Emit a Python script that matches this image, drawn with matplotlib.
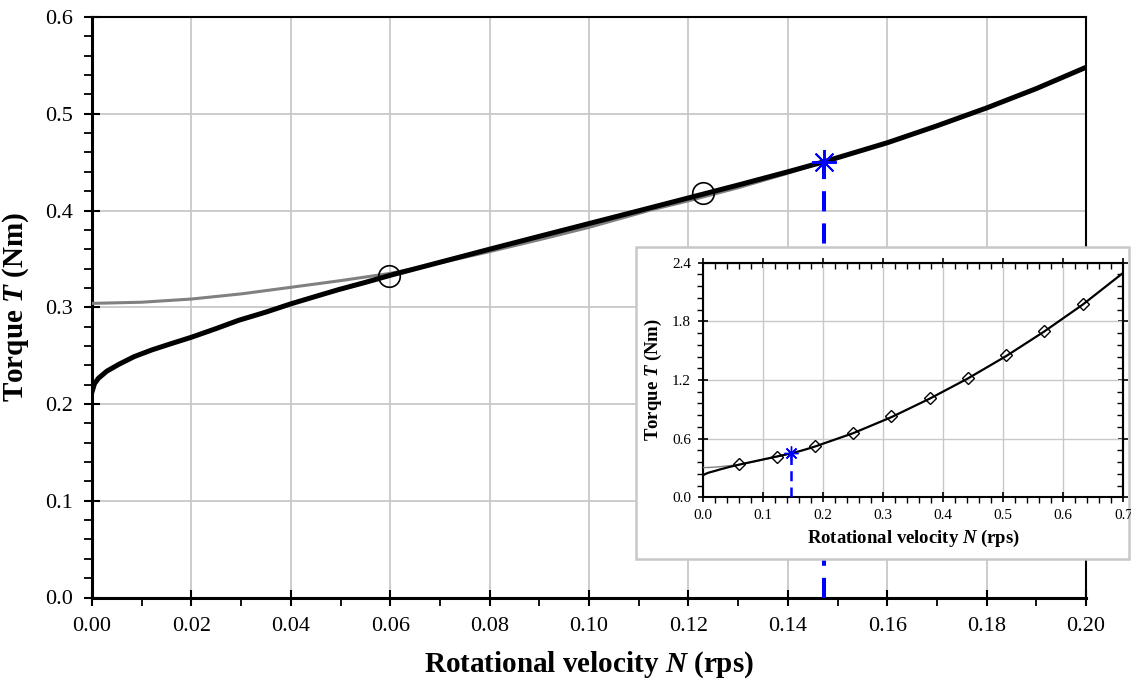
import matplotlib
matplotlib.use("Agg")
import matplotlib.pyplot as plt
from matplotlib.patches import Rectangle
from matplotlib.ticker import MultipleLocator, FormatStrFormatter, NullFormatter

plt.rcParams['font.family'] = ['Liberation Serif', 'DejaVu Serif']
plt.rcParams['mathtext.fontset'] = 'custom'
plt.rcParams['mathtext.rm'] = 'Liberation Serif:bold'
plt.rcParams['mathtext.it'] = 'Liberation Serif:bold:italic'

# black curve
n_black = [0.0, 0.0005, 0.0013, 0.003, 0.0054, 0.0085, 0.0121, 0.016, 0.02, 0.025,
           0.0295, 0.035, 0.04, 0.045, 0.0496, 0.055, 0.06, 0.07, 0.08, 0.09, 0.10,
           0.11, 0.12, 0.13, 0.14, 0.1473, 0.16, 0.17, 0.18, 0.19, 0.20]
t_black = [0.2125, 0.221, 0.2266, 0.234, 0.241, 0.249, 0.256, 0.2625, 0.269, 0.278,
           0.2865, 0.295, 0.3035, 0.3112, 0.3182, 0.3257, 0.333, 0.3465, 0.360, 0.3733, 0.3865,
           0.3997, 0.413, 0.4263, 0.440, 0.4504, 0.470, 0.4875, 0.506, 0.526, 0.548]

# grey curve
n_grey = [0.0, 0.01, 0.02, 0.03, 0.04, 0.05, 0.06, 0.07, 0.08, 0.09, 0.10, 0.1124,
          0.12, 0.13, 0.14, 0.1473]
t_grey = [0.304, 0.3052, 0.3085, 0.3138, 0.3206, 0.3275, 0.335, 0.3458, 0.3575, 0.3698,
          0.3826, 0.4005, 0.410, 0.4235, 0.4385, 0.4504]

# circles and operating point
n_circ = [0.0597, 0.1229]
t_circ = [0.3323, 0.4184]
n_op = 0.1473
t_op = 0.4504

# inset: continuation of black curve and diamonds
n_ext = [0.25, 0.314, 0.378, 0.441, 0.505, 0.568, 0.632, 0.70]
t_ext = [0.655, 0.82, 1.01, 1.215, 1.445, 1.695, 1.97, 2.298]
n_diam = [0.06, 0.123, 0.187, 0.25, 0.314, 0.378, 0.441, 0.505, 0.568, 0.632]
t_diam = [0.3375, 0.409, 0.522, 0.661, 0.828, 1.013, 1.224, 1.452, 1.705, 1.977]

W, H = 1131, 686
fig = plt.figure(figsize=(W / 100, H / 100), dpi=100)
ax = fig.add_axes([92 / W, 1 - 597.5 / H, (1086 - 92) / W, (597.5 - 17) / H])

grid_c = '#c8c8c8'
ax.grid(True, which='major', color=grid_c, lw=1.3)
ax.set_axisbelow(True)
ax.plot(n_grey, t_grey, color='#808080', lw=2.2, zorder=3)
ax.plot(n_black, t_black, color='black', lw=3.6, zorder=4)
ax.plot(n_circ, t_circ, 'o', mfc='none', mec='black', mew=1.2, ms=15.5, zorder=5)
ax.plot([n_op, n_op], [0, t_op], color='blue', lw=2.9, dashes=(5, 3), zorder=5)
ax.plot([n_op], [t_op], marker=(8, 2, 0), color='blue', ms=18, mew=1.4, ls='none', zorder=6)

ax.set_xlim(0, 0.2)
ax.set_ylim(0, 0.6)
ax.xaxis.set_major_locator(MultipleLocator(0.02))
ax.xaxis.set_minor_locator(MultipleLocator(0.01))
ax.yaxis.set_major_locator(MultipleLocator(0.1))
ax.yaxis.set_minor_locator(MultipleLocator(0.02))
ax.xaxis.set_major_formatter(FormatStrFormatter('%.2f'))
ax.yaxis.set_major_formatter(FormatStrFormatter('%.1f'))
ax.tick_params(which='major', direction='inout', length=12, width=1.5, labelsize=16, pad=8)
ax.tick_params(which='minor', direction='out', length=6, width=1.3)
for s in ['left', 'bottom']:
    ax.spines[s].set_linewidth(2.2)
for s in ['top', 'right']:
    ax.spines[s].set_linewidth(1.5)
ax.set_xlabel('Rotational velocity $N$ (rps)', fontsize=21, fontweight='bold', labelpad=10)
ax.set_ylabel('Torque $T$ (Nm)', fontsize=21, fontweight='bold', labelpad=10)

# inset frame
fig.patches.append(Rectangle((636 / W, 1 - 559 / H), (1129 - 636) / W, (559 - 247) / H,
                             transform=fig.transFigure, facecolor='white',
                             edgecolor=grid_c, lw=1.8, zorder=10))

ins = fig.add_axes([702.7 / W, 1 - 497.3 / H, (1123.4 - 702.7) / W, (497.3 - 262.7) / H])
ins.set_zorder(11)
ins.grid(True, which='major', color=grid_c, lw=1.0)
ins.set_axisbelow(True)
ins.plot(n_grey, t_grey, color='#808080', lw=1.0, zorder=3)
ins.plot(n_black + n_ext, t_black + t_ext, color='black', lw=1.6, zorder=4)
ins.plot(n_diam, t_diam, 'D', mfc='none', mec='black', mew=1.0, ms=6, zorder=5)
ins.plot([n_op, n_op], [0, t_op], color='blue', lw=1.8, dashes=(4, 2.5), zorder=5)
ins.plot([n_op], [t_op], marker=(8, 2, 0), color='blue', ms=10, mew=1.0, ls='none', zorder=6)
ins.set_xlim(0, 0.7)
ins.set_ylim(0, 2.4)
ins.xaxis.set_major_locator(MultipleLocator(0.1))
ins.xaxis.set_minor_locator(MultipleLocator(0.02))
ins.yaxis.set_major_locator(MultipleLocator(0.6))
ins.yaxis.set_minor_locator(MultipleLocator(0.12))
ins.xaxis.set_major_formatter(FormatStrFormatter('%.1f'))
ins.yaxis.set_major_formatter(FormatStrFormatter('%.1f'))
ins.tick_params(which='major', direction='inout', length=7, width=1.2, labelsize=11, pad=5)
ins.tick_params(which='minor', direction='out', length=4, width=1.0)
for s in ins.spines.values():
    s.set_linewidth(1.5)
ins.set_xlabel('Rotational velocity $N$ (rps)', fontsize=13.5, fontweight='bold', labelpad=4)
ins.set_ylabel('Torque $T$ (Nm)', fontsize=13.5, fontweight='bold', labelpad=6)

# mirrored ticks on top and right of the inset, pointing inwards
top = ins.secondary_xaxis('top')
right = ins.secondary_yaxis('right')
top.xaxis.set_major_locator(MultipleLocator(0.1))
top.xaxis.set_minor_locator(MultipleLocator(0.02))
right.yaxis.set_major_locator(MultipleLocator(0.6))
right.yaxis.set_minor_locator(MultipleLocator(0.12))
for sec, axis in [(top, top.xaxis), (right, right.yaxis)]:
    axis.set_major_formatter(NullFormatter())
    sec.tick_params(which='major', direction='inout', length=7, width=1.2)
    sec.tick_params(which='minor', direction='in', length=4, width=1.0)
    for s in sec.spines.values():
        s.set_linewidth(1.5)

fig.savefig('out.png', dpi=100)
